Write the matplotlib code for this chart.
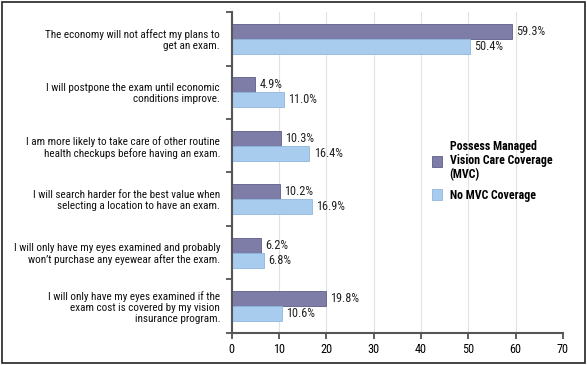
import numpy as np
import matplotlib.pyplot as plt
from matplotlib.patches import Rectangle

plt.rcParams['font.family'] = ['Roboto Condensed', 'DejaVu Sans']
plt.rcParams['font.stretch'] = 'condensed'

statements = [
    "The economy will not affect my plans to\nget an exam.",
    "I will postpone the exam until economic\nconditions improve.",
    "I am more likely to take care of other routine\nhealth checkups before having an exam.",
    "I will search harder for the best value when\nselecting a location to have an exam.",
    "I will only have my eyes examined and probably\nwon\u2019t purchase any eyewear after the exam.",
    "I will only have my eyes examined if the\nexam cost is covered by my vision\ninsurance program.",
]
mvc = [59.3, 4.9, 10.3, 10.2, 6.2, 19.8]
no_mvc = [50.4, 11.0, 16.4, 16.9, 6.8, 10.6]
series_names = ["Possess Managed\nVision Care Coverage\n(MVC)", "No MVC Coverage"]

dark = "#7e7da8"
light = "#a8ccee"

fig = plt.figure(figsize=(5.87, 3.65), dpi=100)
ax = fig.add_axes([0.395, 0.088, 0.564, 0.879])

y = np.arange(len(statements))
h = 0.28
ax.barh(y - h / 2, mvc, height=h, color=dark, edgecolor="#5e5d88", linewidth=0.6,
        label=series_names[0])
ax.barh(y + h / 2, no_mvc, height=h, color=light, edgecolor="#8fb6dd", linewidth=0.6,
        label=series_names[1])

for yi, v in zip(y, mvc):
    ax.text(v + 0.9, yi - h / 2, f"{v:.1f}%", va="center", ha="left", fontsize=8.8, color="#222222")
for yi, v in zip(y, no_mvc):
    ax.text(v + 0.9, yi + h / 2, f"{v:.1f}%", va="center", ha="left", fontsize=8.8, color="#222222")

ax.set_xlim(0, 70)
ax.set_ylim(len(statements) - 0.5, -0.5)
ax.set_xticks(range(0, 71, 10))
ax.xaxis.grid(True, color="#e2e2e2", linewidth=0.8)
ax.set_axisbelow(True)

ax.set_yticks(y)
ax.set_yticklabels(statements, fontsize=8, linespacing=1.12, color="#111111")
ax.set_yticks(np.arange(-0.5, len(statements)), minor=True)
ax.tick_params(axis="y", which="major", length=0, pad=8.5)
ax.tick_params(axis="y", which="minor", length=4, width=1.2, color="#444444")
ax.tick_params(axis="x", length=4, width=1.2, color="#444444", labelsize=8.8, pad=3)

for s in ["top", "right"]:
    ax.spines[s].set_visible(False)
for s in ["left", "bottom"]:
    ax.spines[s].set_color("#555555")
    ax.spines[s].set_linewidth(1.5)

leg = ax.legend(loc="upper left", bbox_to_anchor=(0.604, 0.6), frameon=False,
                prop={"weight": "bold", "size": 8.6}, handlelength=0.85, handleheight=1.05,
                handletextpad=0.65, labelspacing=0.6, borderpad=0, borderaxespad=0)
for t in leg.get_texts():
    t.set_linespacing(1.1)

fig.patches.append(Rectangle((0.004, 0.006), 0.992, 0.988, transform=fig.transFigure,
                             fill=False, edgecolor="#222222", linewidth=1.2))

fig.savefig("out.png", dpi=100)
